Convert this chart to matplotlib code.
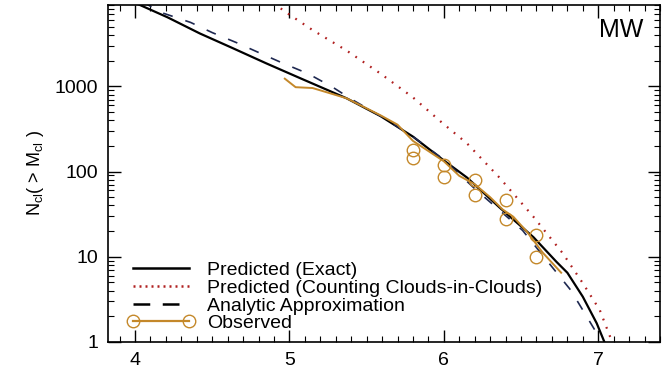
import numpy as np
import matplotlib
matplotlib.use('Agg')
import matplotlib.pyplot as plt
from matplotlib.lines import Line2D
from matplotlib.ticker import MultipleLocator, LogLocator, NullFormatter

# --- Data (log10 cloud mass vs cumulative number) ---
exact_m = [4.00, 4.21, 4.42, 4.63, 4.85, 5.07, 5.37, 5.59, 5.80, 6.00, 6.15,
           6.36, 6.58, 6.73, 6.80, 6.90, 6.99, 7.04]
exact_n = [9550, 6460, 4170, 2820, 1860, 1245, 724, 447, 257, 135, 85,
           38, 17, 8.7, 6.5, 3.4, 1.66, 1.0]

cic_m = [4.90, 4.96, 5.15, 5.37, 5.59, 5.80, 5.99, 6.15, 6.36, 6.58, 6.77,
         6.90, 7.01, 7.09]
cic_n = [9600, 7760, 4570, 2630, 1410, 741, 372, 214, 85, 29.5, 11,
         4.9, 2.37, 1.0]

approx_m = [4.05, 4.18, 4.36, 4.50, 4.66, 4.81, 4.96, 5.12, 5.28, 5.41, 5.60,
            5.80, 6.00, 6.20, 6.51, 6.82, 6.90, 6.99, 7.01]
approx_n = [9770, 7240, 5620, 4270, 3240, 2450, 1860, 1410, 977, 692, 437,
            257, 138, 63, 20.4, 4.1, 2.37, 1.27, 1.0]

obs_m = [4.97, 5.04, 5.15, 5.26, 5.37, 5.48, 5.59, 5.70, 5.80, 5.90, 6.00,
         6.10, 6.20, 6.30, 6.38, 6.45, 6.54, 6.64, 6.76]
obs_n = [1230, 977, 955, 832, 724, 575, 457, 355, 229, 174, 132,
         89, 71, 50, 36, 29.5, 19.5, 11.2, 6.5]

circ_m = [5.8, 5.8, 6.0, 6.0, 6.2, 6.2, 6.4, 6.4, 6.6, 6.6]
circ_n = [178, 144, 119, 86, 79, 53, 46, 28, 18, 10]

labels = ['Predicted (Exact)', 'Predicted (Counting Clouds-in-Clouds)',
          'Analytic Approximation', 'Observed']

# --- Style ---
plt.rcParams['font.family'] = ['Liberation Sans', 'DejaVu Sans']
plt.rcParams['mathtext.fontset'] = 'custom'
plt.rcParams['mathtext.rm'] = 'Liberation Sans'
plt.rcParams['mathtext.it'] = 'Liberation Sans:italic'

ORANGE = '#c4882a'
NAVY = '#1e2850'
RED = '#b02020'

fig = plt.figure(figsize=(6.69, 3.71), dpi=100)
ax = fig.add_axes([108 / 669, 1 - 342 / 371, (660 - 108) / 669, (342 - 5) / 371])

ax.plot(exact_m, exact_n, color='black', lw=1.6)
ax.plot(cic_m, cic_n, color=RED, lw=1.6, dashes=(0.8, 3.2))
ax.plot(approx_m, approx_n, color=NAVY, lw=1.2, dashes=(6, 8))
ax.plot(obs_m, obs_n, color=ORANGE, lw=1.4)
ax.plot(circ_m, circ_n, 'o', mfc='none', mec=ORANGE, mew=1.0, ms=9, ls='none')

ax.set_yscale('log')
ax.set_xlim(3.825, 7.40)
ax.set_ylim(1, 9000)

ax.xaxis.set_major_locator(MultipleLocator(1))
ax.xaxis.set_minor_locator(MultipleLocator(0.1))
ax.yaxis.set_minor_locator(LogLocator(base=10, subs=np.arange(2, 10), numticks=20))
ax.yaxis.set_minor_formatter(NullFormatter())
ax.set_yticks([1, 10, 100, 1000])
ax.set_yticklabels(['1', '10', '100', '1000'])

ax.tick_params(which='both', direction='in', top=True, right=True, labelsize=14)
ax.tick_params(which='major', length=9, width=1.0, pad=7)
ax.tick_params(which='minor', length=4.5, width=0.8)
for s in ax.spines.values():
    s.set_linewidth(1.2)

ax.set_ylabel('N$_{\\rm cl}$( > M$_{\\rm cl}$ )', fontsize=13, labelpad=6)

ax.text(0.93, 0.926, 'MW', transform=ax.transAxes, fontsize=18,
        ha='center', va='center')

handles = [
    Line2D([], [], color='black', lw=1.8),
    Line2D([], [], color=RED, lw=1.8, dashes=(0.8, 1.6)),
    Line2D([], [], color='black', lw=1.8, dashes=(6.7, 5)),
    Line2D([], [], color=ORANGE, lw=1.6, marker='o', mfc='none', mec=ORANGE, ms=9),
]
ax.legend(handles, labels, loc='lower left', bbox_to_anchor=(0.024, 0.012),
          frameon=False, fontsize=14, handlelength=3.5, handletextpad=0.62,
          labelspacing=0.0, borderaxespad=0, borderpad=0.3, numpoints=2)

fig.savefig('out.png', dpi=100)
